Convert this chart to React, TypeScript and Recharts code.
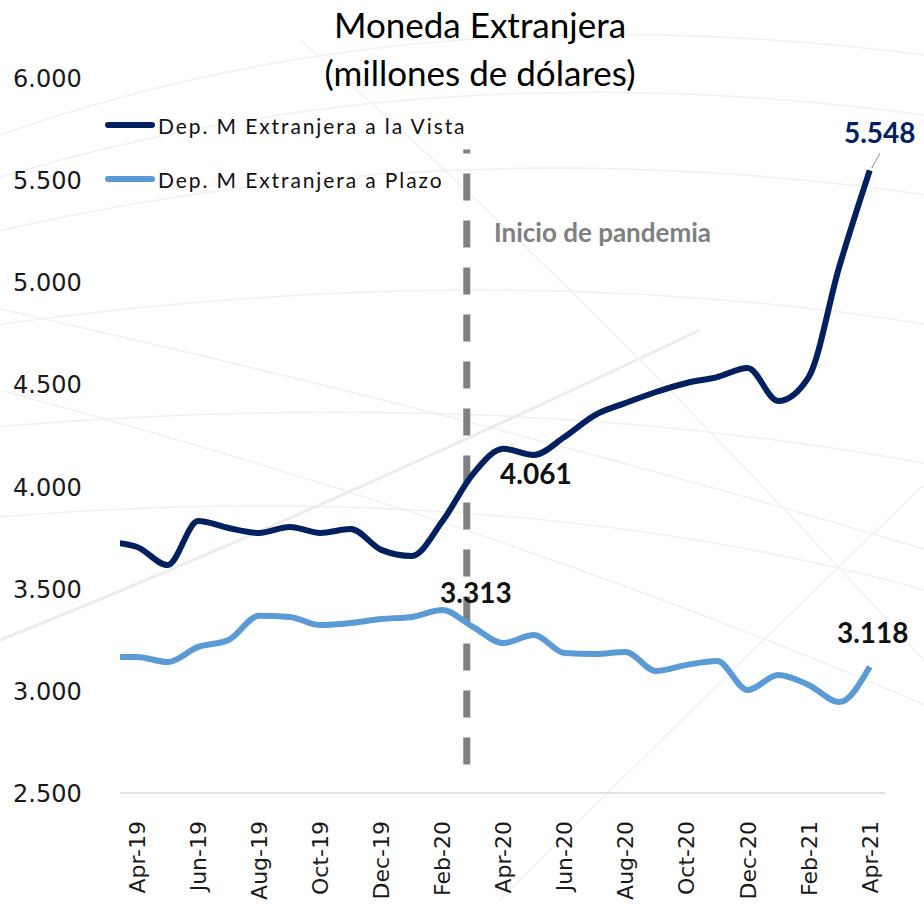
import { LineChart, Line, XAxis, YAxis, ReferenceLine, LabelList } from 'recharts';

const months = [
  'Mar-19', 'Apr-19', 'May-19', 'Jun-19', 'Jul-19', 'Aug-19', 'Sep-19', 'Oct-19', 'Nov-19', 'Dec-19',
  'Jan-20', 'Feb-20', 'Mar-20', 'Apr-20', 'May-20', 'Jun-20', 'Jul-20', 'Aug-20', 'Sep-20', 'Oct-20',
  'Nov-20', 'Dec-20', 'Jan-21', 'Feb-21', 'Mar-21', 'Apr-21',
];

const vista = [
  3730, 3704, 3616, 3831, 3797, 3773, 3802, 3773, 3792, 3690,
  3660, 3830, 4061, 4185, 4155, 4243, 4350, 4409, 4463, 4507,
  4536, 4580, 4419, 4536, 5075, 5548,
];

const plazo = [
  3165, 3166, 3141, 3215, 3249, 3368, 3362, 3322, 3332, 3352,
  3362, 3396, 3313, 3234, 3273, 3185, 3180, 3190, 3097, 3127,
  3146, 3004, 3078, 3029, 2945, 3118,
];

const yTicks = [2500, 3000, 3500, 4000, 4500, 5000, 5500, 6000];
// x position (month index, Apr-19 = 0) of the pandemic marker
const pandemiaX = 10.8;

const NAVY = '#002060';
const LIGHT = '#5b9bd5';
const CAL = 'Lato, "Open Sans", sans-serif';

// month index with Apr-19 = 0
const data = months.map((m, i) => ({ idx: i - 1, month: m, vista: vista[i], plazo: plazo[i] }));
const xTicks = data.filter((d) => d.idx >= 0 && d.idx % 2 === 0).map((d) => d.idx);

const fmt = (v: number) => v.toLocaleString('de-DE');

const YTick = ({ y, payload }: any) => (
  <text x={13} y={y} dy={9} textAnchor="start" fontFamily="DejaVu Sans" fontSize={24} fill="#1a1a1a">
    {fmt(payload.value)}
  </text>
);

const XTick = ({ x, y, payload }: any) => {
  const d = data.find((r) => r.idx === payload.value);
  return (
    <text
      transform={`translate(${x},${y + 20}) rotate(-90)`}
      textAnchor="end"
      dy="0.36em"
      fontFamily="DejaVu Sans"
      fontSize={22}
      fill="#1a1a1a"
    >
      {d ? d.month : ''}
    </text>
  );
};

const vistaLabel = (props: any) => {
  const { x, y, index, value } = props;
  if (index === 12) {
    return (
      <text x={x + 63} y={y} dy={10} textAnchor="middle" fontFamily={CAL} fontWeight={700} fontSize={28} fill="#111">
        {fmt(value)}
      </text>
    );
  }
  if (index === months.length - 1) {
    return (
      <g>
        <line x1={x + 2} y1={y - 2} x2={x + 10} y2={y - 17} stroke="#a6a6a6" strokeWidth={1.2} />
        <text x={x + 10} y={y - 37} dy={10} textAnchor="middle" fontFamily={CAL} fontWeight={700} fontSize={28} fill={NAVY}>
          {fmt(value)}
        </text>
      </g>
    );
  }
  return null;
};

const plazoLabel = (props: any) => {
  const { x, y, index, value } = props;
  if (index === 12 || index === months.length - 1) {
    return (
      <text x={x + 3} y={y - 34} dy={10} textAnchor="middle" fontFamily={CAL} fontWeight={700} fontSize={28} fill="#111">
        {fmt(value)}
      </text>
    );
  }
  return null;
};

const legendItems = [
  { name: 'Dep. M Extranjera a la Vista', color: NAVY },
  { name: 'Dep. M Extranjera a Plazo', color: LIGHT },
];

const LegendBox = () => (
  <div style={{ position: 'absolute', left: 105, top: 98, fontFamily: CAL, fontSize: 21, color: '#111' }}>
    {legendItems.map((item) => (
      <div key={item.name} style={{ display: 'flex', alignItems: 'center', height: 54 }}>
        <span style={{ width: 50, height: 6, borderRadius: 3, background: item.color, marginRight: 3 }} />
        <span style={{ letterSpacing: 1.9 }}>{item.name}</span>
      </div>
    ))}
  </div>
);

// faint decorative swooshes behind the chart
const Background = () => (
  <svg width={924} height={907} style={{ position: 'absolute', left: 0, top: 0 }}>
    <g fill="none" stroke="#f1f1f1" strokeWidth={1.5}>
      <path d="M -40 150 Q 400 -20 960 60" />
      <path d="M -40 190 Q 420 40 960 120" />
      <path d="M -40 240 Q 450 120 960 200" />
      <path d="M -40 330 Q 500 250 960 330" />
      <path d="M -40 430 Q 500 380 960 470" />
      <path d="M -40 520 Q 520 470 960 600" />
      <path d="M -40 300 Q 500 420 960 560" />
      <path d="M -40 380 Q 500 520 960 720" />
      <path d="M 0 640 Q 300 520 700 330" stroke="#ececec" strokeWidth={3} />
      <path d="M 500 900 Q 700 700 960 450" />
      <path d="M 300 40 Q 600 300 960 700" />
    </g>
  </svg>
);

export default function App() {
  return (
    <div style={{ position: 'absolute', left: 0, top: 0, width: 924, height: 907, background: '#fff', overflow: 'hidden' }}>
      <Background />
      <div
        style={{
          position: 'absolute',
          left: 0,
          top: 0,
          width: 960,
          textAlign: 'center',
          fontFamily: CAL,
          fontSize: 35,
          lineHeight: '48px',
          color: '#000',
        }}
      >
        Moneda Extranjera
        <br />
        (millones de dólares)
      </div>
      <div
        style={{
          position: 'absolute',
          left: 494,
          top: 216,
          fontFamily: CAL,
          fontWeight: 700,
          fontSize: 26,
          color: '#808080',
        }}
      >
        Inicio de pandemia
      </div>
      <LegendBox />
      <div style={{ position: 'absolute', left: 0, top: 0 }}>
        <LineChart width={924} height={907} data={data} margin={{ top: 78, right: 39, bottom: 0, left: 0 }}>
          <XAxis
            dataKey="idx"
            type="number"
            domain={[-0.56, 24.5]}
            allowDataOverflow
            ticks={xTicks}
            interval={0}
            tick={<XTick />}
            tickLine={false}
            axisLine={{ stroke: '#d9d9d9', strokeWidth: 1.5 }}
            height={114}
          />
          <YAxis
            domain={[2500, 6000]}
            ticks={yTicks}
            allowDataOverflow
            tick={<YTick />}
            tickLine={false}
            axisLine={false}
            width={120}
          />
          <ReferenceLine
            segment={[
              { x: pandemiaX, y: 5650 },
              { x: pandemiaX, y: 2564 },
            ]}
            stroke="#808080"
            strokeWidth={7}
            strokeDasharray="27 20"
            strokeDashoffset={23}
          />
          <Line type="monotone" dataKey="plazo" stroke={LIGHT} strokeWidth={6} dot={false} isAnimationActive={false}>
            <LabelList dataKey="plazo" content={plazoLabel} />
          </Line>
          <Line type="monotone" dataKey="vista" stroke={NAVY} strokeWidth={6} dot={false} isAnimationActive={false}>
            <LabelList dataKey="vista" content={vistaLabel} />
          </Line>
        </LineChart>
      </div>
    </div>
  );
}
